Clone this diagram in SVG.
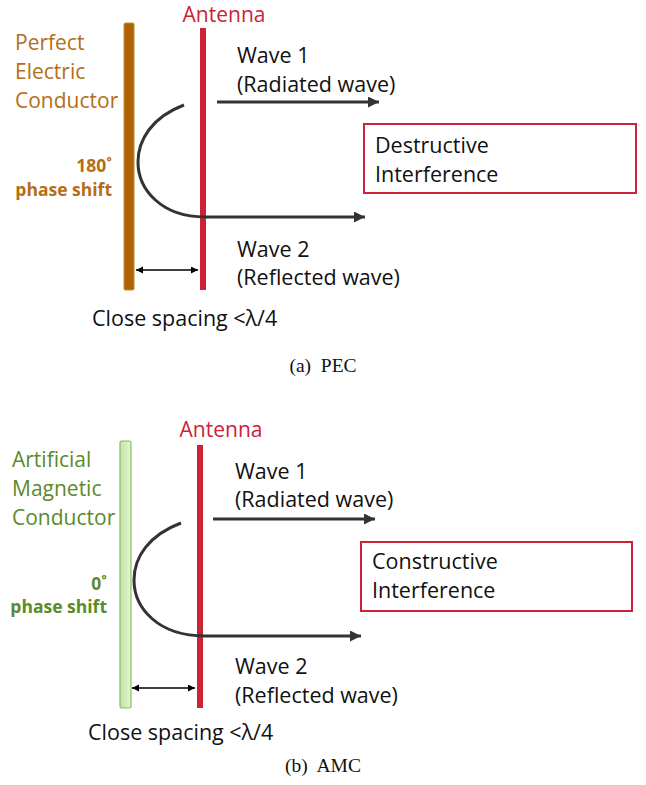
<svg xmlns="http://www.w3.org/2000/svg" width="646" height="785" viewBox="0 0 646 785">
<defs>
<marker id="ah" markerUnits="userSpaceOnUse" markerWidth="12" markerHeight="12" refX="11" refY="5.5" orient="auto">
<path d="M0,0 L11,5.5 L0,11 z" fill="#333"/>
</marker>
<marker id="sa" markerUnits="userSpaceOnUse" markerWidth="8" markerHeight="8" refX="7" refY="3.5" orient="auto-start-reverse">
<path d="M0,0 L7,3.5 L0,7 z" fill="#000"/>
</marker>
<linearGradient id="gg" x1="0" y1="0" x2="1" y2="0">
<stop offset="0" stop-color="#C4E3A4"/>
<stop offset="1" stop-color="#E6F3D8"/>
</linearGradient>
</defs>
<style>
.t{font-family:"Open Sans","Liberation Sans",sans-serif;font-size:21.5px;fill:#111}
.ant{font-family:"Open Sans","Liberation Sans",sans-serif;font-size:21px;fill:#CC2236}
.pec{font-family:"Open Sans","Liberation Sans",sans-serif;font-size:21px;fill:#B46E14}
.amc{font-family:"Open Sans","Liberation Sans",sans-serif;font-size:21px;fill:#5B8A2B}
.b{font-weight:bold;font-size:17.5px}
.cap{font-family:"Liberation Serif","Times New Roman",serif;font-size:19.5px;fill:#111;text-anchor:middle}
.wave{fill:none;stroke:#333;stroke-width:3}
.sp{fill:none;stroke:#000;stroke-width:1.3}
.box{fill:#fff;stroke:#CC2236;stroke-width:2}
.antl{fill:#CC2236}
</style>

<g id="pec-panel">
<g id="pec-conductor">
<rect x="124" y="23" width="10" height="267" rx="1.5" fill="#AD6400" stroke="#C98A3E" stroke-width="1"/>
<text class="pec" x="15" y="50">Perfect</text>
<text class="pec" x="15" y="79">Electric</text>
<text class="pec" x="15" y="108">Conductor</text>
<text class="pec b" x="112" y="172" text-anchor="end" font-size="19">180˚</text>
<text class="pec b" x="112" y="196" text-anchor="end">phase shift</text>
</g>
<g id="pec-antenna">
<rect class="antl" x="200" y="28" width="6" height="262"/>
<text class="ant" x="224" y="22" text-anchor="middle">Antenna</text>
</g>
<g id="pec-wave1">
<text class="t" x="237" y="63">Wave 1</text>
<text class="t" x="237" y="92">(Radiated wave)</text>
</g>
<g id="pec-wave2">
<text class="t" x="237" y="257">Wave 2</text>
<text class="t" x="237" y="285">(Reflected wave)</text>
</g>
<g id="pec-result">
<rect class="box" x="364" y="124" width="272" height="69"/>
<text class="t" x="375" y="153">Destructive</text>
<text class="t" x="375" y="182">Interference</text>
</g>
<g id="pec-spacing">
<text class="t" x="92" y="326">Close spacing &lt;λ/4</text>
</g>
<text class="cap" x="323" y="372">(a)&#160; PEC</text>
</g>

<g id="amc-panel">
<g id="amc-conductor">
<rect x="120" y="441" width="11" height="267" rx="1.5" fill="url(#gg)" stroke="#86BE58" stroke-width="1.2"/>
<text class="amc" x="12" y="467">Artificial</text>
<text class="amc" x="12" y="496">Magnetic</text>
<text class="amc" x="12" y="525">Conductor</text>
<text class="amc b" x="107" y="590" text-anchor="end" font-size="19">0˚</text>
<text class="amc b" x="107" y="613" text-anchor="end">phase shift</text>
</g>
<g id="amc-antenna">
<rect class="antl" x="197" y="445" width="6" height="263"/>
<text class="ant" x="221" y="437" text-anchor="middle">Antenna</text>
</g>
<g id="amc-wave1">
<text class="t" x="235" y="479">Wave 1</text>
<text class="t" x="235" y="507">(Radiated wave)</text>
</g>
<g id="amc-wave2">
<text class="t" x="235" y="674">Wave 2</text>
<text class="t" x="235" y="703">(Reflected wave)</text>
</g>
<g id="amc-result">
<rect class="box" x="361" y="542" width="271" height="69"/>
<text class="t" x="372" y="569">Constructive</text>
<text class="t" x="372" y="598">Interference</text>
</g>
<g id="amc-spacing">
<text class="t" x="88" y="740">Close spacing &lt;λ/4</text>
</g>
<text class="cap" x="323" y="772">(b)&#160; AMC</text>
</g>

<g id="connectors">
<path class="wave" d="M217,102 L379,102" marker-end="url(#ah)"/>
<path class="wave" d="M184,105 C152,117 138,140 138,162 C138,190 162,217 205,217 L365,217" marker-end="url(#ah)"/>
<path class="sp" d="M136,270 L198,270" marker-start="url(#sa)" marker-end="url(#sa)"/>
<path class="wave" d="M213,519 L375,519" marker-end="url(#ah)"/>
<path class="wave" d="M181,523 C149,535 134,557 134,580 C134,608 158,636 205,636 L361,636" marker-end="url(#ah)"/>
<path class="sp" d="M132,688 L195,688" marker-start="url(#sa)" marker-end="url(#sa)"/>
</g>
</svg>
